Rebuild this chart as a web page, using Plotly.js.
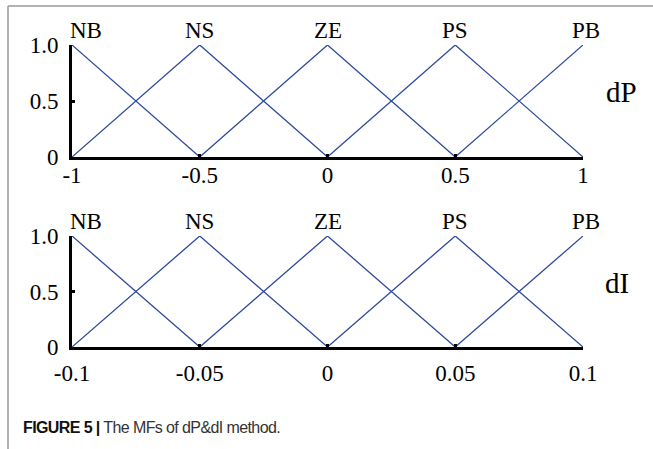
<!DOCTYPE html>
<html>
<head>
<meta charset="utf-8">
<script src="https://cdn.plot.ly/plotly-3.0.1.min.js"></script>
<style>html,body{margin:0;padding:0;background:#fff;}#chart{width:653px;height:449px;}</style>
</head>
<body>
<div id="chart"></div>
<script>
// ---- data ----
const mfNames = ['NB', 'NS', 'ZE', 'PS', 'PB'];
const dpCenters = [-1, -0.5, 0, 0.5, 1];
const diCenters = [-0.1, -0.05, 0, 0.05, 0.1];
const dpTickLabels = ['-1', '-0.5', '0', '0.5', '1'];
const diTickLabels = ['-0.1', '-0.05', '0', '0.05', '0.1'];
const yTickVals = [0, 0.5, 1];
const yTickLabels = ['0', '0.5', '1.0'];
const peakValue = 1;
const footValue = 0;
const panelNames = ['dP', 'dI'];
const caption = ['FIGURE 5 |', 'The MFs of dP&dI method.'];

// ---- build triangle MFs ----
function mfTraces(centers, xa, ya) {
  return centers.map((c, i) => {
    const xs = [], ys = [];
    if (i > 0) { xs.push(centers[i - 1]); ys.push(footValue); }
    xs.push(c); ys.push(peakValue);
    if (i < centers.length - 1) { xs.push(centers[i + 1]); ys.push(footValue); }
    return {
      x: xs, y: ys, type: 'scatter', mode: 'lines', name: mfNames[i],
      xaxis: xa, yaxis: ya, showlegend: false, hoverinfo: 'skip',
      line: {color: '#2e4b9c', width: 1.3}
    };
  });
}

const data = [].concat(mfTraces(dpCenters, 'x', 'y'), mfTraces(diCenters, 'x2', 'y2'));

const serif = 'Liberation Serif, Times New Roman, serif';
const W = 653, H = 449;
const xDom = [72 / W, 583 / W];

function xAxis(centers, labels, anchor, standoff) {
  return {
    domain: xDom, anchor: anchor, range: [centers[0], centers[centers.length - 1]],
    tickmode: 'array', tickvals: centers, ticktext: labels,
    showline: true, linecolor: '#000', linewidth: 3,
    ticks: 'inside', ticklen: 3, tickwidth: 3, tickcolor: '#000',
    showgrid: false, zeroline: false, fixedrange: true,
    ticklabelstandoff: standoff,
    tickfont: {family: serif, size: 23, color: '#000'}
  };
}
function yAxis(dom, anchor) {
  return {
    domain: dom, anchor: anchor, range: [0, 1],
    tickmode: 'array', tickvals: yTickVals, ticktext: yTickLabels,
    showline: true, linecolor: '#000', linewidth: 3,
    ticks: 'inside', ticklen: 3, tickwidth: 3, tickcolor: '#000',
    showgrid: false, zeroline: false, fixedrange: true,
    ticklabelstandoff: 6,
    tickfont: {family: serif, size: 23, color: '#000'}
  };
}

function labelAnns(centers, xa, ya) {
  return centers.map((c, i) => ({
    x: c, y: peakValue, xref: xa, yref: ya, text: mfNames[i],
    showarrow: false, xanchor: i === 0 ? 'left' : 'center', yanchor: 'bottom',
    xshift: i === 0 ? -4 : (i === centers.length - 1 ? 3 : 0), yshift: 0,
    font: {family: serif, size: 23, color: '#000'}
  }));
}

const annotations = [].concat(
  labelAnns(dpCenters, 'x', 'y'),
  labelAnns(diCenters, 'x2', 'y2'),
  [
    {x: 621 / W, y: 1 - 92 / H, xref: 'paper', yref: 'paper', text: panelNames[0], showarrow: false,
     xanchor: 'center', yanchor: 'middle', font: {family: serif, size: 29, color: '#000'}},
    {x: 617 / W, y: 1 - 283 / H, xref: 'paper', yref: 'paper', text: panelNames[1], showarrow: false,
     xanchor: 'center', yanchor: 'middle', font: {family: serif, size: 29, color: '#000'}},
    {x: 21 / W, y: 1 - 427 / H, xref: 'paper', yref: 'paper',
     text: '<span style="letter-spacing:-0.6px"><b>' + caption[0] + '</b> <span style="color:#333">' + caption[1] + '</span></span>',
     showarrow: false, xanchor: 'left', yanchor: 'middle',
     font: {family: 'Liberation Sans, Arial, sans-serif', size: 16, color: '#111'}}
  ]
);

const layout = {
  width: W, height: H,
  margin: {l: 0, r: 0, t: 0, b: 0},
  paper_bgcolor: '#fff', plot_bgcolor: 'rgba(0,0,0,0)',
  showlegend: false,
  xaxis: xAxis(dpCenters, dpTickLabels, 'y', -5),
  yaxis: yAxis([(H - 157) / H, (H - 45) / H], 'x'),
  xaxis2: xAxis(diCenters, diTickLabels, 'y2', 3),
  yaxis2: yAxis([(H - 347) / H, (H - 236) / H], 'x2'),
  annotations: annotations,
  shapes: [
    {type: 'line', xref: 'paper', yref: 'paper', x0: 8 / W, x1: 1, y0: 1 - 6 / H, y1: 1 - 6 / H,
     line: {color: '#9a9a9a', width: 1.5}},
    {type: 'line', xref: 'paper', yref: 'paper', x0: 8 / W, x1: 8 / W, y0: 0, y1: 1 - 6 / H,
     line: {color: '#9a9a9a', width: 1.5}}
  ]
};

Plotly.newPlot('chart', data, layout, {displayModeBar: false, staticPlot: true});
</script>
</body>
</html>
